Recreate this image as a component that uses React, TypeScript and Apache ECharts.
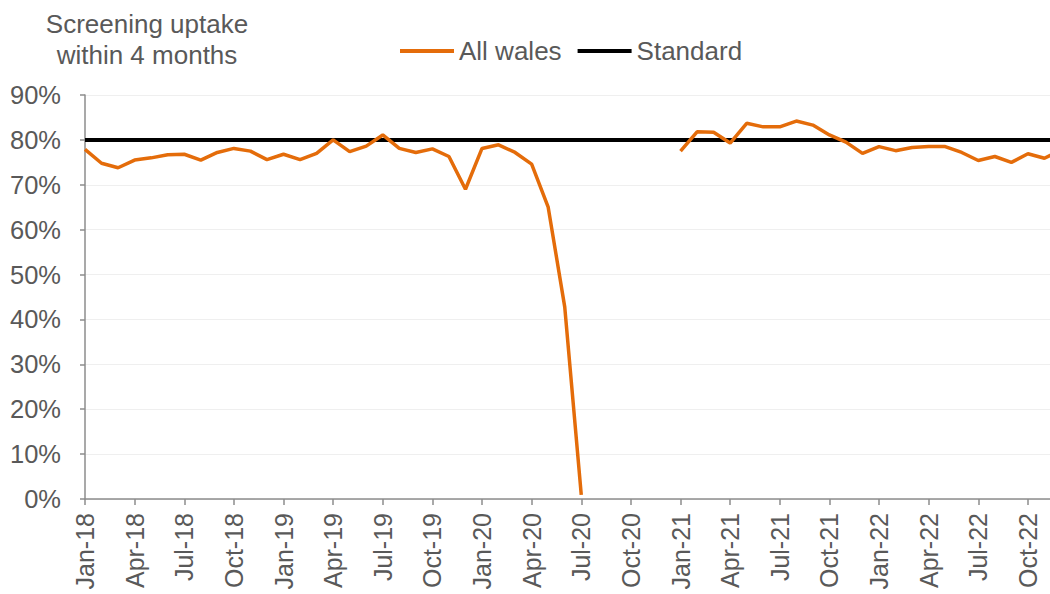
import React, { useEffect, useRef } from "react";
import * as echarts from "echarts";

const categories: string[] = [
  "Jan-18", "Feb-18", "Mar-18", "Apr-18", "May-18", "Jun-18", "Jul-18", "Aug-18", "Sep-18", "Oct-18", "Nov-18", "Dec-18",
  "Jan-19", "Feb-19", "Mar-19", "Apr-19", "May-19", "Jun-19", "Jul-19", "Aug-19", "Sep-19", "Oct-19", "Nov-19", "Dec-19",
  "Jan-20", "Feb-20", "Mar-20", "Apr-20", "May-20", "Jun-20", "Jul-20", "Aug-20", "Sep-20", "Oct-20", "Nov-20", "Dec-20",
  "Jan-21", "Feb-21", "Mar-21", "Apr-21", "May-21", "Jun-21", "Jul-21", "Aug-21", "Sep-21", "Oct-21", "Nov-21", "Dec-21",
  "Jan-22", "Feb-22", "Mar-22", "Apr-22", "May-22", "Jun-22", "Jul-22", "Aug-22", "Sep-22", "Oct-22", "Nov-22", "Dec-22",
];

const allWales: (number | null)[] = [
  77.9, 74.8, 73.8, 75.5, 76.0, 76.7, 76.8, 75.5, 77.2, 78.1, 77.5, 75.6,
  76.8, 75.6, 77.0, 80.0, 77.4, 78.6, 81.1, 78.1, 77.2, 78.0, 76.3, 69.0,
  78.1, 78.9, 77.2, 74.6, 65.0, 42.8, 0.9, null, null, null, null, null,
  77.5, 81.8, 81.7, 79.3, 83.7, 82.9, 82.9, 84.2, 83.3, 81.1, 79.5, 77.0,
  78.5, 77.6, 78.3, 78.5, 78.5, 77.2, 75.4, 76.3, 75.0, 76.9, 75.9, 77.8,
];

const standardValue = 80;
const standard: number[] = categories.map(() => standardValue);

const yTicks = { min: 0, max: 90, interval: 10 };
const titleText = "Screening uptake\nwithin 4 months";

const FONT = "'Liberation Sans', Arial, sans-serif";
const TEXT = "#595959";

export default function App() {
  const ref = useRef<HTMLDivElement>(null);
  useEffect(() => {
    if (!ref.current) return;
    const chart = echarts.init(ref.current, undefined, { renderer: "svg" });
    chart.setOption({
      animation: false,
      backgroundColor: "#ffffff",
      textStyle: { fontFamily: FONT },
      graphic: [
        {
          type: "text",
          x: 147,
          y: 8,
          style: {
            text: titleText,
            fill: TEXT,
            fontSize: 26,
            fontFamily: FONT,
            lineHeight: 31,
            align: "center",
            verticalAlign: "top",
          },
        },
      ],
      legend: {
        left: 395,
        top: 33,
        itemWidth: 54,
        itemHeight: 4,
        itemGap: 16,
        icon: "rect",
        textStyle: { color: TEXT, fontSize: 26, fontFamily: FONT },
        data: ["All wales", "Standard"],
      },
      grid: { left: 85, right: 1, top: 95, bottom: 95, containLabel: false },
      xAxis: {
        type: "category",
        data: categories,
        boundaryGap: false,
        axisLine: { show: true, lineStyle: { color: "#8c8c8c", width: 1.5 } },
        axisTick: { show: true, interval: 2, length: 6, lineStyle: { color: "#8c8c8c", width: 1.5 } },
        axisLabel: {
          interval: 2,
          rotate: 90,
          margin: 14,
          color: TEXT,
          fontSize: 25,
          fontFamily: FONT,
        },
        splitLine: { show: false },
      },
      yAxis: {
        type: "value",
        min: yTicks.min,
        max: yTicks.max,
        interval: yTicks.interval,
        axisLine: { show: true, lineStyle: { color: "#8c8c8c", width: 1.5 } },
        axisTick: { show: true, length: 5, lineStyle: { color: "#8c8c8c", width: 1.5 } },
        axisLabel: {
          formatter: "{value}%",
          color: TEXT,
          fontSize: 25.5,
          fontFamily: FONT,
          margin: 24,
        },
        splitLine: { show: true, lineStyle: { color: "#efefef", width: 1 } },
      },
      series: [
        {
          name: "All wales",
          type: "line",
          data: allWales,
          symbol: "none",
          connectNulls: false,
          color: "#E46C0A",
          lineStyle: { color: "#E46C0A", width: 3.5 },
          z: 3,
        },
        {
          name: "Standard",
          type: "line",
          data: standard,
          symbol: "none",
          color: "#000000",
          lineStyle: { color: "#000000", width: 4 },
          z: 2,
        },
      ],
    });
    return () => chart.dispose();
  }, []);
  return (
    <div
      style={{
        position: "absolute",
        left: 0,
        top: 0,
        width: 1050,
        height: 594,
        overflow: "hidden",
        background: "#ffffff",
      }}
    >
      <div ref={ref} style={{ width: 1062, height: 594 }} />
    </div>
  );
}
